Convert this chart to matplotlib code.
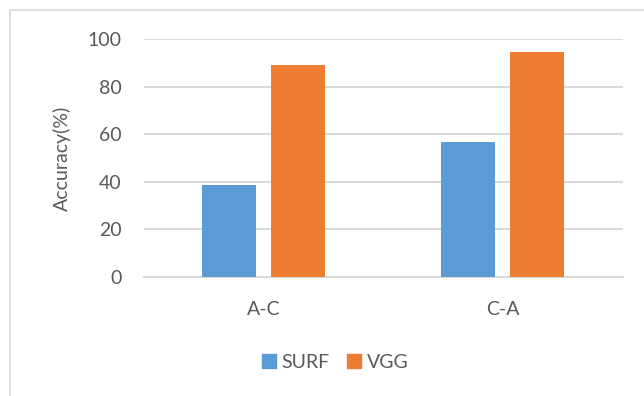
import matplotlib
matplotlib.use("Agg")
import matplotlib.pyplot as plt
from matplotlib.patches import Patch
from matplotlib.lines import Line2D
import numpy as np

plt.rcParams['font.family'] = ['Lato', 'DejaVu Sans']

# accuracy per transfer direction
tasks = ['A-C', 'C-A']
surf = [38.5, 56.7]
vgg = [89.1, 94.4]
series_names = ['SURF', 'VGG']
yticks = [0, 20, 40, 60, 80, 100]

blue = '#5B9BD5'
orange = '#ED7D31'
grid_col = '#D9D9D9'
text_col = '#595959'

fig = plt.figure(figsize=(6.44, 3.96), dpi=100)
ax = fig.add_axes([0.2231, 0.3005, 0.7437, 0.601])

x = np.arange(len(tasks))
w = 0.225
off = 0.144
ax.bar(x - off, surf, width=w, color=blue, zorder=3)
ax.bar(x + off, vgg, width=w, color=orange, zorder=3)

ax.set_xlim(-0.5, len(tasks) - 0.5)
ax.set_ylim(0, 100)
ax.set_yticks(yticks)
ax.set_xticks(x)
ax.set_xticklabels(tasks)
ax.tick_params(axis='both', length=0, labelsize=14, colors=text_col)
ax.tick_params(axis='y', pad=16)
ax.tick_params(axis='x', pad=17)

ax.yaxis.grid(True, color=grid_col, linewidth=1.4)
ax.set_axisbelow(True)
for side in ['top', 'right', 'left']:
    ax.spines[side].set_visible(False)
ax.spines['bottom'].set_color(grid_col)
ax.spines['bottom'].set_linewidth(1.4)

ax.set_ylabel('Accuracy(%)', fontsize=14, color=text_col, labelpad=12)

handles = [Patch(color=blue, label=series_names[0]),
           Patch(color=orange, label=series_names[1])]
fig.legend(handles=handles, loc='center', bbox_to_anchor=(0.521, 1 - 362 / 396),
           ncol=2, frameon=False, fontsize=14, labelcolor=text_col,
           handlelength=0.7, handleheight=0.7, handletextpad=0.3,
           columnspacing=0.9)

# chart frame (only left and top edges fall inside the image)
fig.add_artist(Line2D([10 / 644, 1], [1 - 10 / 396] * 2, color=grid_col,
                      lw=1.2, transform=fig.transFigure))
fig.add_artist(Line2D([10 / 644] * 2, [0, 1 - 10 / 396], color=grid_col,
                      lw=1.2, transform=fig.transFigure))

fig.savefig('out.png', dpi=100)
